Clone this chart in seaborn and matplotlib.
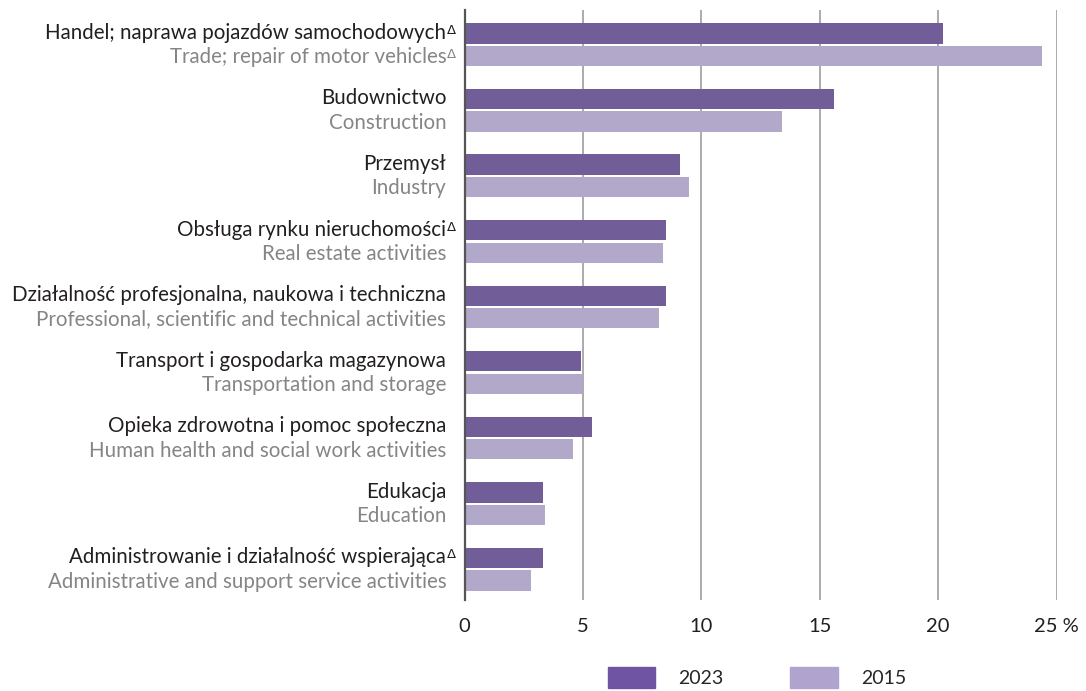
import pandas as pd
import seaborn as sns
import matplotlib.pyplot as plt
from matplotlib.patches import Patch

# Data (shares in %)
labels_pl = [
    "Handel; naprawa pojazdów samochodowych",
    "Budownictwo",
    "Przemysł",
    "Obsługa rynku nieruchomości",
    "Działalność profesjonalna, naukowa i techniczna",
    "Transport i gospodarka magazynowa",
    "Opieka zdrowotna i pomoc społeczna",
    "Edukacja",
    "Administrowanie i działalność wspierająca",
]
labels_en = [
    "Trade; repair of motor vehicles",
    "Construction",
    "Industry",
    "Real estate activities",
    "Professional, scientific and technical activities",
    "Transportation and storage",
    "Human health and social work activities",
    "Education",
    "Administrative and support service activities",
]
delta_pl = [True, False, False, True, False, False, False, False, True]
delta_en = [True, False, False, False, False, False, False, False, False]
values_2023 = [20.2, 15.6, 9.1, 8.5, 8.5, 4.9, 5.4, 3.3, 3.3]
values_2015 = [24.4, 13.4, 9.5, 8.4, 8.2, 5.0, 4.6, 3.4, 2.8]
years = ["2023", "2015"]
x_ticks = [0, 5, 10, 15, 20, 25]
x_tick_labels = ["0", "5", "10", "15", "20", "25 %"]

dark = "#6e54a2"
light = "#b0a3ce"

df = pd.DataFrame({
    "sector": labels_pl * 2,
    "value": values_2023 + values_2015,
    "year": [years[0]] * len(labels_pl) + [years[1]] * len(labels_pl),
})

sns.set_style("white")
plt.rcParams["font.family"] = ["Lato", "DejaVu Sans"]

fig = plt.figure(figsize=(10.86, 6.91), dpi=100)
ax = fig.add_axes([464.5 / 1086, 91 / 691, (1056.6 - 464.5) / 1086, 590 / 691])

sns.barplot(data=df, y="sector", x="value", hue="year", orient="h",
            palette=[dark, light], width=0.686, gap=0.1, legend=False,
            edgecolor="none", ax=ax)

ax.set_xlim(0, 25)
ax.set_ylim(8.47, -0.53)
ax.set_xticks(x_ticks)
ax.set_xticklabels(x_tick_labels, fontsize=14.5, color="#231f20")
ax.tick_params(axis="x", length=0, pad=13)
ax.set_yticks([])
ax.set_xlabel("")
ax.set_ylabel("")
for s in ["top", "right", "bottom"]:
    ax.spines[s].set_visible(False)
ax.spines["left"].set_color("#555555")
ax.spines["left"].set_linewidth(1.6)
ax.spines["left"].set_zorder(5)
for t in x_ticks[1:]:
    ax.axvline(t, color="#a5a5a5", lw=1.3, zorder=0)

# two-line category labels
trans = ax.get_yaxis_transform()
for i, (pl, en) in enumerate(zip(labels_pl, labels_en)):
    t_pl = ax.text(-0.031, i - 0.18, pl, transform=trans, ha="right", va="center",
                   fontsize=14.8, color="#231f20")
    t_en = ax.text(-0.031, i + 0.19, en, transform=trans, ha="right", va="center",
                   fontsize=14.8, color="#858585")
    for t, flag, col in [(t_pl, delta_pl[i], "#231f20"), (t_en, delta_en[i], "#858585")]:
        if flag:
            ax.annotate("Δ", xy=(1.0, 0.95), xycoords=t, xytext=(0.5, 0),
                        textcoords="offset points", ha="left", va="top",
                        fontsize=9.5, color=col, family="DejaVu Sans")

handles = [Patch(color=dark, label=years[0]), Patch(color=light, label=years[1])]
fig.legend(handles=handles, loc="center", bbox_to_anchor=(0.697, 0.02), ncol=2,
           frameon=False, fontsize=14, handlelength=2.45, handleheight=1.3,
           handletextpad=1.2, columnspacing=3.4)

fig.savefig("out.png", dpi=100)
